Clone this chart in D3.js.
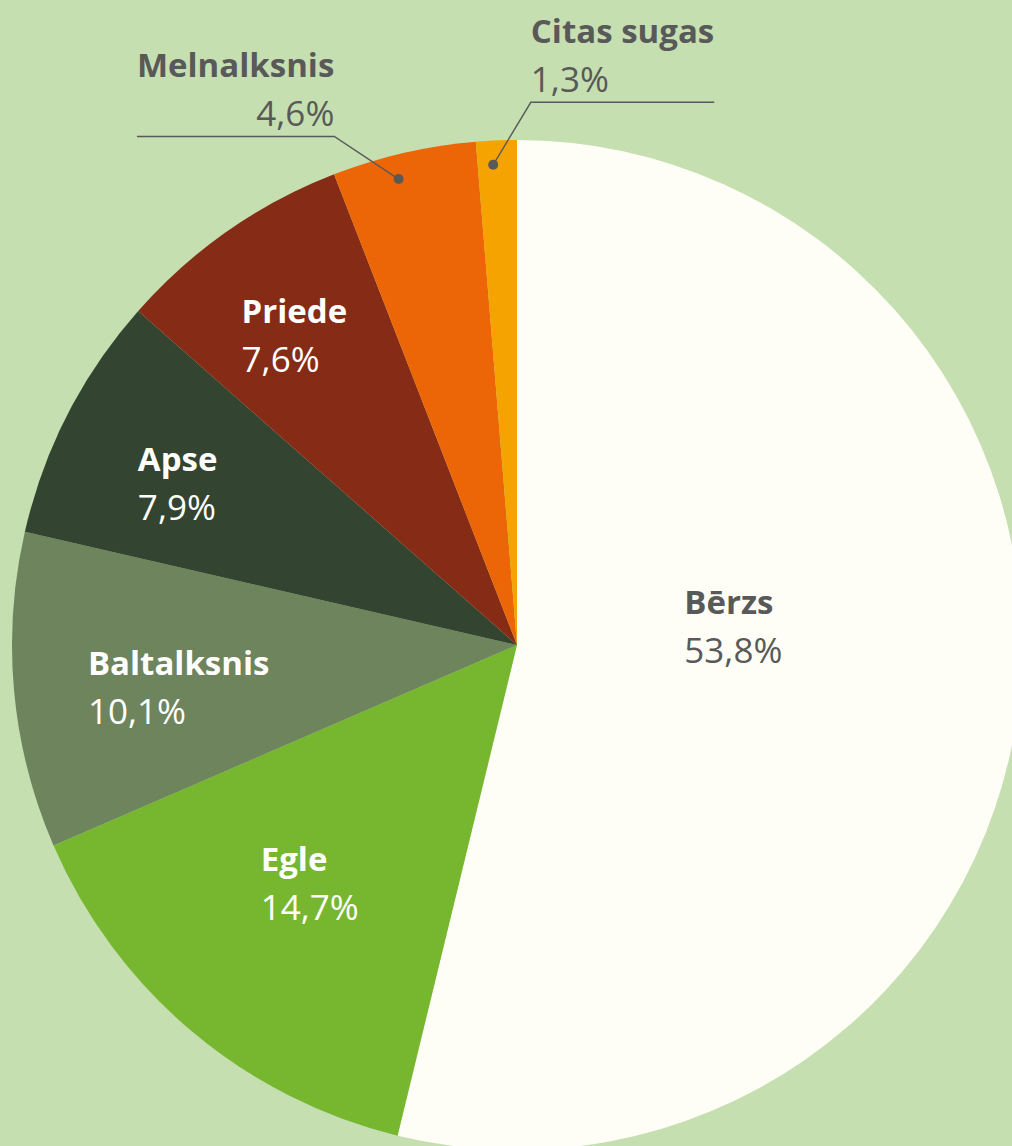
<!DOCTYPE html>
<meta charset="utf-8">
<style>
body { margin: 0; background: #c5dfb0; }
svg { display: block; font-family: 'Open Sans', sans-serif; }
</style>
<body>
<script src="https://cdn.jsdelivr.net/npm/d3@7"></script>
<script>

// species share, clockwise from 12 o'clock
var species = ["Bērzs", "Egle", "Baltalksnis", "Apse", "Priede", "Melnalksnis", "Citas sugas"];
var shares  = [53.8, 14.7, 10.1, 7.9, 7.6, 4.6, 1.3];
var colors  = ["#fefef6", "#76b72f", "#6e845c", "#334431", "#862b16", "#ec6608", "#f5a300"];
var darkText = ["Bērzs", "Melnalksnis", "Citas sugas"];

var width = 1012, height = 1146;
var cx = 517, cy = 645, r = 505;

// label placement: fraction of radius + angle nudge (deg); outside labels get a leader line
var place = {
  "Bērzs":       {k: 0.43, da: -11.8},
  "Egle":        {k: 0.625, da: 0.9},
  "Baltalksnis": {k: 0.675, da: -1.8},
  "Apse":        {k: 0.745, da: -1.6},
  "Priede":      {k: 0.755, da: -0.8},
  "Melnalksnis": {k: 1.07, da: -6.8, out: "left", dot: -1.3},
  "Citas sugas": {k: 1.075, da: 3.8, out: "right", dot: -0.5}
};

var data = species.map(function(s, i) { return {name: s, value: shares[i], color: colors[i]}; });

var svg = d3.select("body").append("svg")
    .attr("width", width)
    .attr("height", height);

var g = svg.append("g").attr("transform", "translate(" + cx + "," + cy + ")");

var pie = d3.pie().sort(null).value(function(d) { return d.value; });
var arc = d3.arc().innerRadius(0).outerRadius(r);
var arcs = pie(data);

g.selectAll("path.slice")
    .data(arcs)
  .enter().append("path")
    .attr("class", "slice")
    .attr("fill", function(d) { return d.data.color; })
    .attr("d", arc);

function polar(rad, angDeg) {
  var a = angDeg * Math.PI / 180;
  return [rad * Math.sin(a), -rad * Math.cos(a)];
}

var fmt = function(v) { return v.toFixed(1).replace(".", ",") + "%"; };
var lineGap = 49;

arcs.forEach(function(d) {
  var p = place[d.data.name];
  var mid = (d.startAngle + d.endAngle) / 2 * 180 / Math.PI;
  var fill = darkText.indexOf(d.data.name) >= 0 ? "#595959" : "#ffffff";

  var lab = g.append("g");
  var t1 = lab.append("text")
      .attr("font-weight", 700)
      .attr("font-size", 33)
      .attr("fill", fill)
      .text(d.data.name);
  var t2 = lab.append("text")
      .attr("font-size", 35)
      .attr("y", lineGap)
      .attr("fill", fill)
      .text(fmt(d.data.value));
  var w = Math.max(t1.node().getComputedTextLength(), t2.node().getComputedTextLength());
  var pt = polar(r * p.k, mid + p.da);

  if (!p.out) {
    // block centred on the point, lines left aligned
    lab.attr("transform", "translate(" + (pt[0] - w / 2) + "," + (pt[1] - 12) + ")");
  } else {
    // pt is the end of the underline under the label
    var x0 = p.out === "left" ? pt[0] - w : pt[0];
    var x1 = x0 + w;
    lab.attr("transform", "translate(" + x0 + "," + (pt[1] - 59) + ")");
    if (p.out === "left") {
      t1.attr("text-anchor", "end").attr("x", w);
      t2.attr("text-anchor", "end").attr("x", w);
    }
    var dot = polar(r * 0.952, mid + p.dot);
    var elbow = p.out === "left" ? x1 : x0;
    g.append("path")
        .attr("fill", "none")
        .attr("stroke", "#595959")
        .attr("stroke-width", 1.4)
        .attr("d", "M" + (p.out === "left" ? x0 : x1) + "," + pt[1] +
                   "L" + elbow + "," + pt[1] +
                   "L" + dot[0] + "," + dot[1]);
    g.append("circle")
        .attr("cx", dot[0]).attr("cy", dot[1])
        .attr("r", 5)
        .attr("fill", "#595959");
  }
});

</script>
</body>
